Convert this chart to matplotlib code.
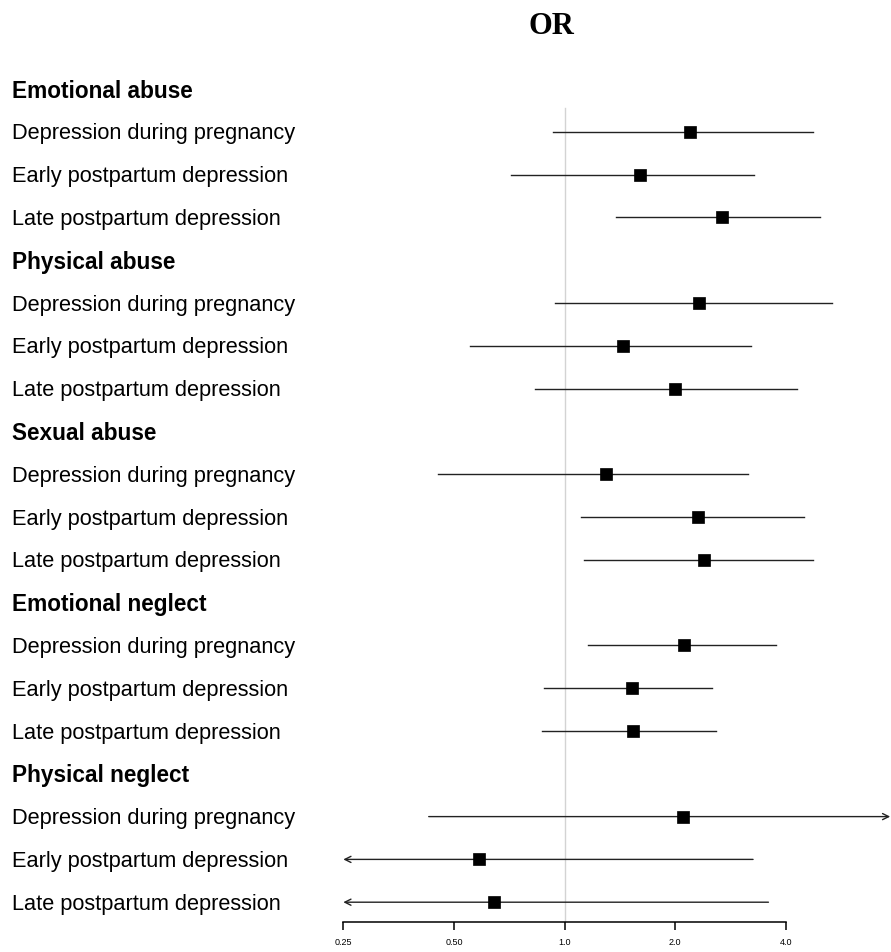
import matplotlib.pyplot as plt
import numpy as np

groups = ["Emotional abuse", "Physical abuse", "Sexual abuse",
          "Emotional neglect", "Physical neglect"]
outcomes = ["Depression during pregnancy", "Early postpartum depression",
            "Late postpartum depression"]

# odds ratios and 95% CI, 3 outcomes per group
or_est = [2.19, 1.61, 2.68, 2.32, 1.44, 2.00, 1.30, 2.31, 2.40,
          2.12, 1.53, 1.54, 2.10, 0.584, 0.642]
ci_low = [0.928, 0.716, 1.38, 0.943, 0.553, 0.832, 0.453, 1.11, 1.13,
          1.16, 0.881, 0.869, 0.427, 0.20, 0.21]
ci_high = [4.76, 3.27, 4.97, 5.35, 3.22, 4.29, 3.16, 4.49, 4.76,
           3.77, 2.52, 2.59, 9.5, 3.26, 3.59]

tick_vals = [0.25, 0.5, 1.0, 2.0, 4.0]
tick_labels = ["0.25", "0.50", "1.0", "2.0", "4.0"]

W, H = 891, 952
fig = plt.figure(figsize=(W / 100, H / 100), dpi=100)

# pixel layout
row0 = 89.0
step = 42.8
axis_px = 922.0
top_px = 60.0
x_left_px = 343.3
per_doubling = 110.6
xmax = 2 ** ((W - x_left_px) / per_doubling - 2)
clip_lo, clip_hi = 0.25, 7.7
text_dy = 2.0  # labels sit a touch lower than the marks

ax = fig.add_axes([x_left_px / W, (H - axis_px) / H, (W - x_left_px) / W,
                   (axis_px - top_px) / H])
ax.set_xscale("log", base=2)
ax.set_xlim(0.25, xmax)
ybot = (axis_px - row0) / step
ytop = (top_px - row0) / step
ax.set_ylim(ybot, ytop)

for s in ["left", "top", "right"]:
    ax.spines[s].set_visible(False)
ax.spines["bottom"].set_bounds(0.25, 4.0)
ax.spines["bottom"].set_linewidth(1.1)
ax.set_yticks([])
ax.set_xticks(tick_vals)
ax.set_xticklabels(tick_labels)
ax.xaxis.set_minor_locator(plt.NullLocator())
ax.tick_params(axis="x", direction="out", length=5.5, width=1.1, pad=6,
               labelsize=6.5, colors="black")
for lab in ax.get_xticklabels():
    lab.set_family("Liberation Sans")

# reference line at 1
ax.plot([1, 1], [(108 - row0) / step, ybot], color="#d3d3d3", lw=1.0, zorder=1)

arrow_kw = dict(arrowstyle="->", lw=1.0, color="#222222",
                shrinkA=0, shrinkB=0, mutation_scale=11)

idx = 0
for g, grp in enumerate(groups):
    hy = g * 4
    fig.text(12 / W, 1 - (row0 + hy * step + text_dy) / H, grp, fontsize=16.3,
             fontweight="bold", family="Liberation Sans", va="center", ha="left")
    for k, oc in enumerate(outcomes):
        y = hy + k + 1
        fig.text(12 / W, 1 - (row0 + y * step + text_dy) / H, oc, fontsize=15.7,
                 family="Liberation Sans", va="center", ha="left")
        lo, hi, est = ci_low[idx], ci_high[idx], or_est[idx]
        lo_c = max(lo, clip_lo)
        hi_c = min(hi, clip_hi)
        if lo < clip_lo:
            ax.annotate("", xy=(lo_c, y), xytext=(hi_c, y), arrowprops=arrow_kw)
        elif hi > clip_hi:
            ax.annotate("", xy=(hi_c, y), xytext=(lo_c, y), arrowprops=arrow_kw,
                        annotation_clip=False)
        else:
            ax.plot([lo_c, hi_c], [y, y], color="#222222", lw=1.0, zorder=2)
        ax.plot(est, y, marker="s", ms=8.3, color="black", mew=0.5, zorder=3)
        idx += 1

fig.text(551 / W, 1 - 26 / H, "OR", fontsize=22, fontweight="bold",
         family="Liberation Serif", ha="center", va="center")

fig.savefig("out.png", dpi=100)
